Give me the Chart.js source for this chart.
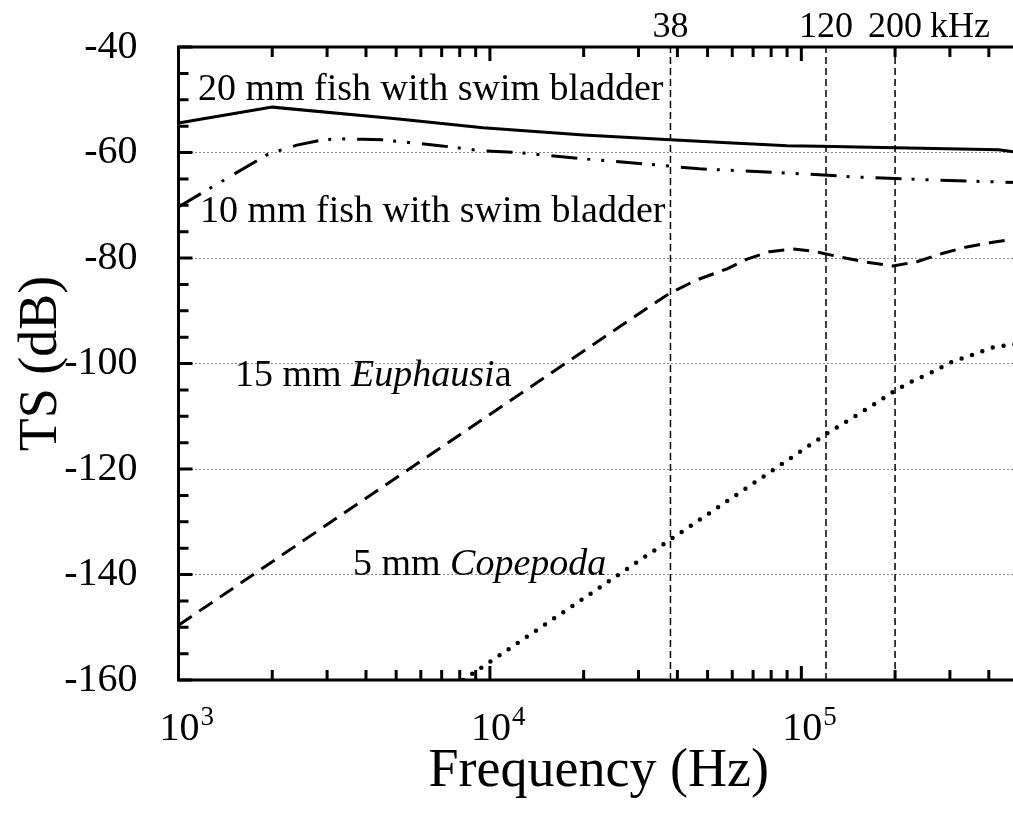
<!DOCTYPE html>
<html>
<head>
<meta charset="utf-8">
<title>TS vs frequency</title>
<script src="https://cdn.jsdelivr.net/npm/chart.js@4.4.1/dist/chart.umd.min.js"></script>
<style>
  html, body { margin: 0; padding: 0; background: #fff; overflow: hidden; }
  #wrap { width: 1020px; height: 814px; }
  canvas { display: block; }
</style>
</head>
<body>
<div id="wrap"><canvas id="graph" width="1020" height="814"></canvas></div>
<script>
// Données (fréquence en Hz, TS en dB)
const fish20Hz = [1000, 2000, 5000, 9500, 20000, 38000, 60000, 70000, 90000, 115000, 200000, 430000, 500000];
const fish20Db = [-54.4, -51.4, -53.6, -55.3, -56.7, -57.6, -58.2, -58.4, -58.7, -58.8, -59.1, -59.5, -60.0];

const fish10Hz = [1000, 1940, 2400, 2900, 3300, 3900, 4500, 6900, 9500, 12200, 20000, 32000, 47000, 90000, 114000, 143000, 264000, 383000, 500000];
const fish10Db = [-70.3, -60.3, -58.6, -57.6, -57.4, -57.5, -57.6, -58.7, -59.7, -60.0, -61.2, -62.2, -63.1, -63.9, -64.2, -64.6, -65.2, -65.5, -65.7];

const euphHz = [1000, 30000, 38000, 46000, 58000, 67000, 79000, 94000, 109000, 133000, 162000, 197000, 235000, 285000, 340000, 412000, 500000];
const euphDb = [-149.6, -90.6, -86.6, -84.2, -82.0, -80.2, -78.8, -78.3, -78.7, -79.8, -80.8, -81.5, -80.7, -79.1, -77.9, -77.0, -76.3];

const copeHz = [8200, 120000, 175000, 199000, 228000, 264000, 304000, 352000, 409000, 500000];
const copeDb = [-160, -113.4, -107.4, -105.2, -103.3, -101.6, -99.7, -98.4, -97.0, -96.2];

// Fréquences des échosondeurs (lignes verticales)
const markHz = [38000, 120000, 200000];
const markLabels = ['38', '120', '200'];
const markUnit = 'kHz';

// Axes
const xMin = 1000, xMax = 500000;
const xDecades = [1000, 10000, 100000];
const yMin = -160, yMax = -40, yStep = 5, yLabelStep = 20;

const serif = "'Liberation Serif', 'Times New Roman', serif";

function toPoints(xs, ys) {
    return xs.map((x, i) => ({ x: x, y: ys[i] }));
}

function isPow10(v) {
    const l = Math.log10(v);
    return Math.abs(l - Math.round(l)) < 1e-9;
}

// graduations de l'axe log : 1..9 x 10^n
const xTicks = [];
xDecades.forEach(function(d) {
    for (let m = 1; m <= 9; m++) {
        if (d * m <= xMax) xTicks.push(d * m);
    }
});

// lignes verticales en pointillés (38, 120, 200 kHz)
const markSets = markHz.map(function(f) {
    return {
        data: [{ x: f, y: yMin }, { x: f, y: yMax }],
        borderColor: '#000',
        borderWidth: 1.5,
        borderDash: [7, 4],
        pointRadius: 0
    };
});

// Cadre, graduations vers l'intérieur, étiquettes 10^n
const framePlugin = {
    id: 'cadre',
    afterDraw(chart) {
        const ctx = chart.ctx;
        const a = chart.chartArea;
        const sx = chart.scales.x, sy = chart.scales.y;
        ctx.save();
        ctx.strokeStyle = '#000';
        ctx.lineWidth = 3;
        ctx.setLineDash([]);
        ctx.lineCap = 'butt';
        ctx.beginPath();
        sx.ticks.forEach(function(t) {
            const x = sx.getPixelForValue(t.value);
            const len = isPow10(t.value) ? 14 : 10;
            ctx.moveTo(x, a.bottom); ctx.lineTo(x, a.bottom - len);
            ctx.moveTo(x, a.top); ctx.lineTo(x, a.top + len);
        });
        sy.ticks.forEach(function(t) {
            const y = sy.getPixelForValue(t.value);
            const len = t.value % yLabelStep === 0 ? 14 : 10;
            ctx.moveTo(a.left, y); ctx.lineTo(a.left + len, y);
        });
        ctx.stroke();
        ctx.strokeRect(a.left, a.top, a.right - a.left, a.bottom - a.top);

        // étiquettes 10^3, 10^4, 10^5
        ctx.fillStyle = '#000';
        ctx.textBaseline = 'alphabetic';
        sx.ticks.forEach(function(t) {
            if (!isPow10(t.value)) return;
            const x = sx.getPixelForValue(t.value);
            ctx.font = '40px ' + serif;
            ctx.textAlign = 'center';
            ctx.fillText('10', x + 1, 740);
            const w = ctx.measureText('10').width;
            ctx.font = '27px ' + serif;
            ctx.textAlign = 'left';
            ctx.fillText(String(Math.round(Math.log10(t.value))), x + 1 + w / 2 + 1, 725);
        });

        // étiquettes en haut : 38, 120, 200 kHz
        ctx.font = '36px ' + serif;
        markHz.forEach(function(f, i) {
            const x = sx.getPixelForValue(f);
            ctx.textAlign = 'center';
            ctx.fillText(markLabels[i], x, 37);
            if (i === markHz.length - 1) {
                const w = ctx.measureText(markLabels[i]).width;
                ctx.textAlign = 'left';
                ctx.fillText(markUnit, x + w / 2 + 8, 37);
            }
        });
        ctx.restore();
    }
};

// Textes dans le graphique (avec morceaux en italique)
function drawParts(ctx, x, y, parts) {
    parts.forEach(function(p) {
        ctx.font = (p[1] ? 'italic ' : '') + '38px ' + serif;
        ctx.fillText(p[0], x, y);
        x += ctx.measureText(p[0]).width;
    });
}

const labelPlugin = {
    id: 'textes',
    afterDatasetsDraw(chart) {
        const ctx = chart.ctx;
        ctx.save();
        ctx.fillStyle = '#000';
        ctx.textAlign = 'left';
        ctx.textBaseline = 'alphabetic';
        drawParts(ctx, 198, 100, [['20 mm fish with swim bladder', false]]);
        drawParts(ctx, 200, 222, [['10 mm fish with swim bladder', false]]);
        drawParts(ctx, 235, 386, [['15 mm ', false], ['Euphausi', true], ['a', false]]);
        drawParts(ctx, 353, 575, [['5 mm ', false], ['Copepoda', true]]);
        ctx.restore();
    }
};

document.addEventListener('DOMContentLoaded', function() {
    const ctx = document.getElementById('graph').getContext('2d');
    new Chart(ctx, {
        type: 'line',
        data: {
            datasets: [
                {
                    label: '20 mm fish',
                    data: toPoints(fish20Hz, fish20Db),
                    borderColor: '#000',
                    borderWidth: 3,
                    pointRadius: 0
                },
                {
                    label: '10 mm fish',
                    data: toPoints(fish10Hz, fish10Db),
                    borderColor: '#000',
                    borderWidth: 3,
                    borderDash: [26, 10, 3, 11, 3, 12],
                    pointRadius: 0
                },
                {
                    label: '15 mm Euphausia',
                    data: toPoints(euphHz, euphDb),
                    borderColor: '#000',
                    borderWidth: 3,
                    borderDash: [16, 9],
                    pointRadius: 0
                },
                {
                    label: '5 mm Copepoda',
                    data: toPoints(copeHz, copeDb),
                    borderColor: '#000',
                    borderWidth: 4.5,
                    borderDash: [0, 11],
                    borderCapStyle: 'round',
                    pointRadius: 0
                }
            ].concat(markSets)
        },
        options: {
            responsive: false,
            animation: false,
            devicePixelRatio: 1,
            layout: { padding: { top: 47, right: 1, left: 0, bottom: 0 } },
            plugins: {
                legend: { display: false },
                tooltip: { enabled: false }
            },
            elements: { line: { tension: 0, fill: false } },
            scales: {
                x: {
                    type: 'logarithmic',
                    min: xMin,
                    max: xMax,
                    afterBuildTicks: function(scale) {
                        scale.ticks = xTicks.map(v => ({ value: v, major: isPow10(v) }));
                    },
                    afterFit: function(scale) {
                        scale.height = 134;
                        scale.paddingLeft = 0;
                        scale.paddingRight = 0;
                    },
                    ticks: { display: false },
                    grid: { display: false },
                    border: { display: false },
                    title: {
                        display: true,
                        text: 'Frequency (Hz)',
                        color: '#000',
                        font: { family: serif, size: 54 },
                        padding: { top: 0, bottom: 10 }
                    }
                },
                y: {
                    type: 'linear',
                    min: yMin,
                    max: yMax,
                    afterFit: function(scale) {
                        scale.width = 178.5;
                        scale.paddingTop = 0;
                        scale.paddingBottom = 0;
                    },
                    ticks: {
                        stepSize: yStep,
                        autoSkip: false,
                        padding: 41,
                        color: '#000',
                        font: { family: serif, size: 40 },
                        callback: function(value) {
                            return value % yLabelStep === 0 ? String(value) : '';
                        }
                    },
                    grid: {
                        drawTicks: false,
                        lineWidth: 1,
                        color: function(c) {
                            const v = c.tick ? c.tick.value : 0;
                            if (v === yMin || v === yMax) return 'rgba(0,0,0,0)';
                            return v % yLabelStep === 0 ? '#888' : 'rgba(0,0,0,0)';
                        }
                    },
                    border: { display: false, dash: [2, 2] },
                    title: {
                        display: true,
                        text: 'TS (dB)',
                        color: '#000',
                        font: { family: serif, size: 54 },
                        padding: { top: 9, bottom: 0 }
                    }
                }
            }
        },
        plugins: [labelPlugin, framePlugin]
    });
});
</script>
</body>
</html>
